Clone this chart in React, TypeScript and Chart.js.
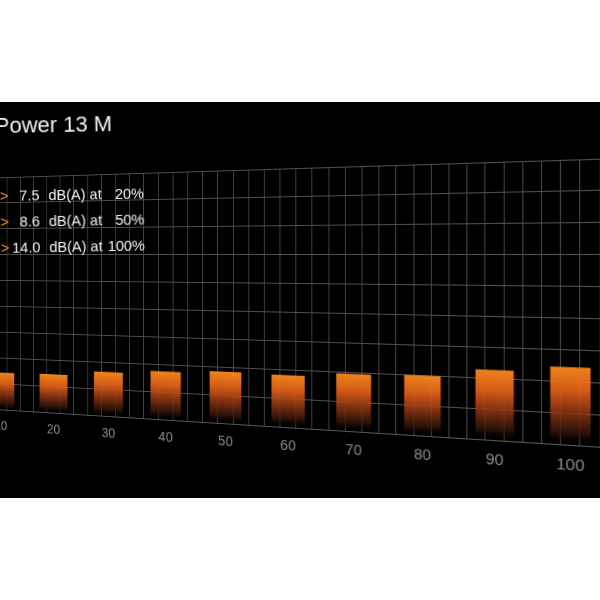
import React, { useEffect, useRef } from 'react';
import { Chart, registerables } from 'chart.js';

Chart.register(...registerables);

// load steps (%) and noise level
const LOADS = [10, 20, 30, 40, 50, 60, 70, 80, 90, 100];
const NOISE_LEVEL = [7.1, 7.2, 8.1, 8.7, 9.1, 9.0, 9.7, 9.9, 11.3, 12.2];

// spec lines printed on the panel
const SPEC_DB = ['7.5', '8.6', '14.0'];
const SPEC_LOAD = ['20%', '50%', '100%'];
const TITLE = 'Power 13 M';

const FONT = '"Liberation Sans", Arial, Helvetica, sans-serif';

// perspective set-up (the panel is seen from the left)
const PERSPECTIVE = 1014;
const TILT = -20;
const VIEW_LOAD = 61.9; // load value that sits in the middle of the view
const VIEW_LEVEL = 30; // level on the horizon line
const BAND_TOP = 102;
const BAND_HEIGHT = 396;
const HORIZON_Y = 255 - BAND_TOP;
const FLAT_W = 742;
const PAD_TOP = 10;
const GRID_H = 260;
const AXIS_H = 30;
const FLAT_H = PAD_TOP + GRID_H + AXIS_H + 5;

const barFill = (ctx: any) => {
  const chart = ctx.chart;
  const { chartArea, scales } = chart;
  if (!chartArea || !ctx.parsed) return '#e8731c';
  const top = scales.y.getPixelForValue(ctx.parsed.y);
  const base = scales.y.getPixelForValue(0);
  const g = chart.ctx.createLinearGradient(0, top, 0, base);
  g.addColorStop(0, 'rgba(247,136,28,0.96)');
  g.addColorStop(0.3, 'rgba(226,96,24,0.93)');
  g.addColorStop(0.6, 'rgba(140,52,18,0.86)');
  g.addColorStop(0.85, 'rgba(50,22,10,0.8)');
  g.addColorStop(1, 'rgba(0,0,0,0)');
  return g;
};

const PowerChart = () => {
  const canvasRef = useRef<HTMLCanvasElement>(null);
  const wrapRef = useRef<HTMLDivElement>(null);

  useEffect(() => {
    if (!canvasRef.current || !wrapRef.current) return;

    const chart = new Chart(canvasRef.current, {
      type: 'bar',
      data: {
        datasets: [{
          data: LOADS.map((x, i) => ({ x, y: NOISE_LEVEL[i] })),
          backgroundColor: barFill,
          borderWidth: 0,
          barThickness: 35,
        }],
      },
      options: {
        responsive: false,
        maintainAspectRatio: false,
        animation: false,
        layout: { padding: { top: PAD_TOP, bottom: 5, left: 0, right: 0 } },
        plugins: {
          legend: { display: false },
          tooltip: { enabled: false },
        },
        scales: {
          x: {
            type: 'linear',
            min: 5,
            max: 110,
            afterFit: (scale: any) => { scale.height = AXIS_H; },
            grid: { color: '#444444', drawTicks: false },
            border: { color: '#5a5a5a' },
            ticks: {
              stepSize: 2.5,
              autoSkip: false,
              maxRotation: 0,
              padding: 10,
              color: '#8c8c8c',
              font: { family: FONT, size: 15 },
              callback: (v: any) => (LOADS.includes(Number(v)) ? String(v) : ''),
            },
          },
          y: {
            min: 0,
            max: 45,
            afterFit: (scale: any) => { scale.width = 0; },
            grid: { color: '#505050', drawTicks: false },
            border: { display: false },
            ticks: { display: false, stepSize: 5 },
          },
        },
      },
    } as any);

    // pin the view centre onto the horizon point of the photo
    const ox = chart.scales.x.getPixelForValue(VIEW_LOAD);
    const oy = chart.scales.y.getPixelForValue(VIEW_LEVEL);
    const wrap = wrapRef.current;
    wrap.style.left = `${300 - ox}px`;
    wrap.style.top = `${HORIZON_Y - oy}px`;
    wrap.style.transformOrigin = `${ox}px ${oy}px`;
    wrap.style.transform = `perspective(${PERSPECTIVE}px) rotateY(${TILT}deg)`;

    return () => {
      chart.destroy();
    };
  }, []);

  return (
    <div ref={wrapRef} style={{ position: 'absolute', left: 0, top: 0 }}>
      <canvas ref={canvasRef} width={FLAT_W} height={FLAT_H} style={{ display: 'block', width: FLAT_W, height: FLAT_H }} />
    </div>
  );
};

const textStyle = (size: number): React.CSSProperties => ({
  position: 'absolute',
  fontFamily: FONT,
  fontSize: size,
  lineHeight: `${size}px`,
  whiteSpace: 'nowrap',
  color: '#f2f2f2',
});

export default function App() {
  const rowBaselines = [201.5, 227, 253.5];
  return (
    <div style={{ position: 'fixed', left: 0, top: 0, width: 600, height: 600, background: '#fff', overflow: 'hidden' }}>
      <div style={{ position: 'absolute', left: 0, top: BAND_TOP, width: 600, height: BAND_HEIGHT, background: '#000', overflow: 'hidden' }}>
        <PowerChart />
      </div>
      <div style={{ position: 'absolute', left: 0, top: 0, width: 600, height: 600, transform: 'rotate(-1deg)', transformOrigin: '0px 200px' }}>
        <div style={{ ...textStyle(22), left: -4, top: 134 - 18.6 }}>{TITLE}</div>
        {SPEC_DB.map((db, i) => {
          const top = rowBaselines[i] - 12.3;
          return (
            <React.Fragment key={db}>
              <div style={{ ...textStyle(14.5), left: 0, top, color: '#f08a24' }}>&gt;</div>
              <div style={{ ...textStyle(14.5), left: 0, top, width: 39.5, textAlign: 'right' }}>{db}</div>
              <div style={{ ...textStyle(14.5), left: 48.5, top }}>dB(A) at</div>
              <div style={{ ...textStyle(14.5), left: 0, top, width: 144, textAlign: 'right' }}>{SPEC_LOAD[i]}</div>
            </React.Fragment>
          );
        })}
      </div>
    </div>
  );
}
